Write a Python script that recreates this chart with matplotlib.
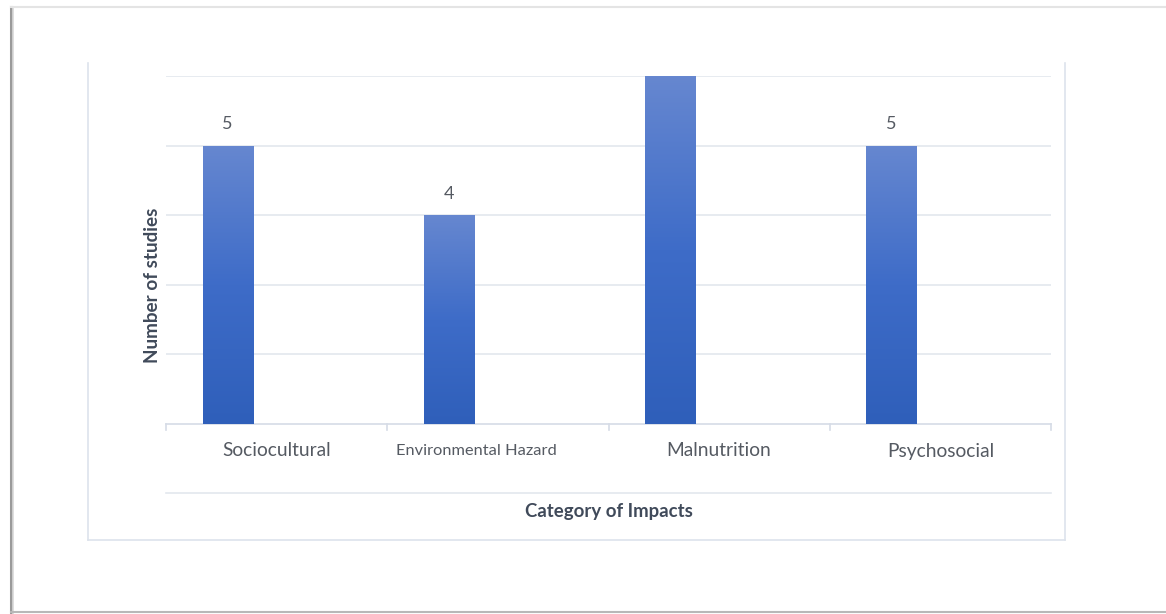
import matplotlib.pyplot as plt
import numpy as np
from matplotlib.lines import Line2D
from matplotlib.colors import LinearSegmentedColormap

categories = ['Sociocultural', 'Environmental Hazard', 'Malnutrition', 'Psychosocial']
studies = [5, 4, 6, 5]
shown_labels = [True, True, False, True]
y_min, y_max = 1, 6

W, H = 1166, 614
fig = plt.figure(figsize=(W / 100, H / 100), dpi=100)
fig.patch.set_facecolor('white')

def fx(px):
    return px / W

def fy(py):
    return 1 - py / H

def hline(y, x0, x1, color, lw=1.0):
    fig.add_artist(Line2D([fx(x0), fx(x1)], [fy(y), fy(y)], color=color, lw=lw))

def vline(x, y0, y1, color, lw=1.0):
    fig.add_artist(Line2D([fx(x), fx(x)], [fy(y0), fy(y1)], color=color, lw=lw))

# page edge shadow
vline(11, 7, 614, '#9a9a9a', lw=2.2)
vline(13, 7, 614, '#d8d8d8', lw=1.2)
hline(6.5, 11, W, '#e4e4e4', lw=1.5)
hline(612, 11, W, '#b8b8b8', lw=1.5)

# chart frame (open at the top)
frame_c = '#dde3ec'
vline(88, 63, 540, frame_c, lw=1.2)
vline(1065, 63, 540, frame_c, lw=1.2)
hline(540, 88, 1065, frame_c, lw=1.2)

ax = fig.add_axes([fx(166), fy(424), fx(1051) - fx(166), fy(76) - fy(424)])

grid_c = '#e3e7ee'
for v in range(y_min + 1, y_max + 1):
    ax.axhline(v, color=grid_c, lw=1.2, zorder=0)
ax.axhline(y_min, color='#d6dce6', lw=1.2, zorder=1, clip_on=False)

x = np.arange(len(categories))
offset = -0.222
width = 0.226
cmap = LinearSegmentedColormap.from_list('bar', ['#2f5fba', '#3e6cc8', '#6687d0'])
grad = np.linspace(0, 1, 256).reshape(-1, 1)
for xi, val, show in zip(x, studies, shown_labels):
    left = xi + offset - width / 2
    bar = ax.bar(xi + offset, val - y_min, bottom=y_min, width=width,
                 color='#4a74c8', edgecolor='none', zorder=2)[0]
    im = ax.imshow(grad, cmap=cmap, origin='lower', aspect='auto',
                   extent=[left, left + width, y_min, val], zorder=3)
    im.set_clip_path(bar)
    if show:
        ax.text(xi + offset, val + 0.31, str(val), ha='center', va='center',
                fontsize=13, color='#555a62', family='Lato')
ax.set_xlim(-0.5, 3.5)
ax.set_ylim(y_min, y_max)

for s in ax.spines.values():
    s.set_visible(False)
ax.set_yticks([])
ax.set_xticks([])

# category boundary ticks
for b in np.arange(-0.5, 4, 1.0):
    ax.plot([b, b], [y_min, y_min - 0.08], color='#d6dce6', lw=1.2, clip_on=False)

# category labels
label_x = [277, 476, 719, 941]
label_size = [13.8, 11.8, 13.8, 13.8]
for name, lx, sz in zip(categories, label_x, label_size):
    fig.text(fx(lx), fy(451), name, ha='center', va='center', fontsize=sz,
             color='#555a62', family='Lato')

hline(493, 166, 1051, grid_c, lw=1.2)

fig.text(fx(609), fy(511), 'Category of Impacts', ha='center', va='center',
         fontsize=13.4, fontweight='bold', color='#404a5a', family='Lato')
fig.text(fx(152), fy(285), 'Number of studies', ha='center', va='center',
         rotation=90, fontsize=13.6, fontweight='bold', color='#404a5a', family='Lato')

fig.savefig('out.png', dpi=100, facecolor='white')
